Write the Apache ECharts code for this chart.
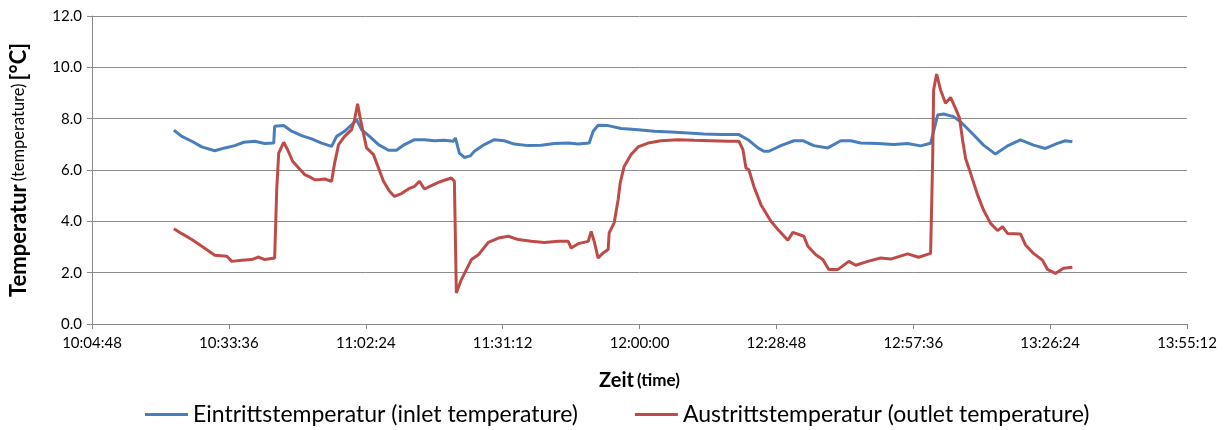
<!DOCTYPE html>
<html>
<head>
<meta charset="utf-8">
<script src="https://cdn.jsdelivr.net/npm/echarts@6/dist/echarts.min.js"></script>
<style>
html,body{margin:0;padding:0;background:#fff;}
#c{width:1228px;height:430px;}
</style>
</head>
<body>
<div id="c"></div>
<script>
// Time in seconds since midnight
const inletTimes = [37322,37422,37548,37674,37838,37964,38090,38204,38342,38468,38582,38594,38708,38809,38935,39061,39187,39313,39376,39477,39590,39628,39691,39792,39905,40031,40132,40233,40359,40485,40611,40737,40851,40876,40926,40989,41065,41115,41241,41367,41493,41619,41796,41960,42124,42300,42426,42565,42615,42678,42804,42968,43182,43384,43598,43813,44014,44229,44455,44569,44695,44770,44834,44985,45149,45262,45401,45577,45741,45867,45993,46207,46409,46585,46749,46875,46964,47039,47165,47253,47380,47543,47695,47846,48010,48174,48325,48476,48577,48665];
const inletTemps = [7.55,7.31,7.12,6.90,6.75,6.86,6.95,7.08,7.12,7.03,7.05,7.70,7.73,7.51,7.34,7.21,7.05,6.92,7.31,7.51,7.83,7.96,7.57,7.31,6.99,6.77,6.77,6.99,7.18,7.18,7.14,7.16,7.12,7.25,6.66,6.49,6.55,6.73,6.99,7.18,7.14,7.01,6.95,6.96,7.03,7.05,7.01,7.05,7.51,7.74,7.73,7.62,7.57,7.51,7.48,7.44,7.40,7.38,7.38,7.18,6.86,6.73,6.73,6.95,7.14,7.14,6.95,6.86,7.14,7.14,7.05,7.03,6.99,7.03,6.94,7.04,8.14,8.18,8.08,7.88,7.49,6.97,6.62,6.94,7.17,6.97,6.84,7.04,7.14,7.10];

const outletTimes = [37322,37422,37548,37674,37838,37990,38053,38179,38305,38393,38468,38594,38620,38645,38708,38758,38821,38897,38973,39036,39099,39149,39225,39313,39351,39401,39477,39565,39603,39641,39678,39754,39842,39905,39968,40044,40107,40195,40283,40359,40422,40485,40573,40662,40737,40825,40863,40888,40951,41078,41166,41292,41418,41544,41670,41834,41998,42174,42300,42338,42426,42552,42590,42628,42678,42741,42804,42817,42880,42930,42956,43006,43094,43182,43308,43472,43687,43888,44102,44317,44455,44506,44544,44581,44644,44733,44859,44947,45073,45136,45275,45325,45426,45514,45590,45703,45842,45930,46081,46245,46371,46585,46724,46875,46901,46913,46951,47001,47064,47127,47190,47241,47279,47317,47380,47468,47543,47632,47720,47783,47846,48010,48073,48174,48287,48350,48451,48552,48665];
const outletTemps = [3.71,3.52,3.29,3.03,2.68,2.64,2.44,2.48,2.51,2.61,2.51,2.57,5.23,6.66,7.08,6.79,6.34,6.08,5.82,5.73,5.62,5.62,5.65,5.56,6.27,6.99,7.31,7.57,7.96,8.58,7.96,6.86,6.60,6.08,5.56,5.17,4.97,5.08,5.26,5.36,5.56,5.26,5.39,5.52,5.60,5.69,5.56,1.21,1.73,2.51,2.70,3.18,3.35,3.42,3.29,3.22,3.18,3.22,3.22,2.96,3.13,3.22,3.61,3.22,2.57,2.77,2.90,3.55,3.94,4.84,5.49,6.14,6.60,6.90,7.05,7.14,7.18,7.16,7.14,7.12,7.12,6.79,6.08,6.01,5.36,4.65,4.00,3.68,3.26,3.57,3.42,3.03,2.70,2.51,2.12,2.12,2.44,2.29,2.44,2.57,2.53,2.73,2.60,2.75,6.39,9.12,9.74,9.12,8.60,8.83,8.40,8.01,7.17,6.45,5.87,5.03,4.44,3.92,3.64,3.79,3.53,3.51,3.08,2.75,2.49,2.13,1.97,2.17,2.21];

const seriesNames = ['Eintrittstemperatur (inlet temperature)', 'Austrittstemperatur (outlet temperature)'];
const xMin = 36288, xMax = 50112, xStep = 1728; // 10:04:48 .. 13:55:12, every 28:48
const yMin = 0, yMax = 12, yStep = 2;

function pairs(ts, vs){ return ts.map((t,i)=>[t, vs[i]]); }
function fmtTime(s){
  const h = Math.floor(s/3600), m = Math.floor((s%3600)/60), sec = Math.round(s%60);
  const p = n => String(n).padStart(2,'0');
  return h + ':' + p(m) + ':' + p(sec);
}

const FONT = 'Lato';
const chart = echarts.init(document.getElementById('c'), null, {renderer:'canvas'});
chart.setOption({
  animation:false,
  backgroundColor:'#ffffff',
  textStyle:{fontFamily:FONT},
  grid:{left:90, right:41, top:16, bottom:106, containLabel:false},
  legend:{
    top:398, left:140,
    itemWidth:43, itemHeight:3, itemGap:57,
    icon:'rect',
    textStyle:{fontFamily:FONT, fontSize:23, color:'#000'},
    data:seriesNames
  },
  xAxis:{
    type:'value', min:xMin, max:xMax, interval:xStep,
    name:'{b|Zeit} {s|(time)}', nameLocation:'middle', nameGap:47,
    nameTextStyle:{rich:{b:{fontFamily:FONT,fontSize:20,fontWeight:'bold',color:'#000'}, s:{fontFamily:FONT,fontSize:17,fontWeight:'bold',color:'#000'}}},
    axisLine:{show:true, lineStyle:{color:'#888888', width:1}},
    axisTick:{show:true, inside:false, length:5, lineStyle:{color:'#888888'}},
    axisLabel:{formatter:fmtTime, fontFamily:FONT, fontSize:15, color:'#000', margin:12},
    splitLine:{show:false}
  },
  yAxis:{
    type:'value', min:yMin, max:yMax, interval:yStep,
    name:'{b|Temperatur} {s|(temperature)} {b|[°C]}', nameLocation:'middle', nameGap:62, nameRotate:90,
    nameTextStyle:{rich:{b:{fontFamily:FONT,fontSize:22,fontWeight:'bold',color:'#000'}, s:{fontFamily:FONT,fontSize:16.5,color:'#000'}}},
    axisLine:{show:true, lineStyle:{color:'#888888', width:1}},
    axisTick:{show:true, inside:false, length:5, lineStyle:{color:'#888888'}},
    axisLabel:{formatter:v=>v.toFixed(1), fontFamily:FONT, fontSize:15, color:'#000', margin:10},
    splitLine:{show:true, lineStyle:{color:'#8c8c8c', width:1}}
  },
  series:[
    {name:seriesNames[0], type:'line', data:pairs(inletTimes, inletTemps), showSymbol:false, symbol:'none',
     lineStyle:{color:'#4a7ebb', width:3}, itemStyle:{color:'#4a7ebb'}},
    {name:seriesNames[1], type:'line', data:pairs(outletTimes, outletTemps), showSymbol:false, symbol:'none',
     lineStyle:{color:'#be4b48', width:3}, itemStyle:{color:'#be4b48'}}
  ]
});
</script>
</body>
</html>
